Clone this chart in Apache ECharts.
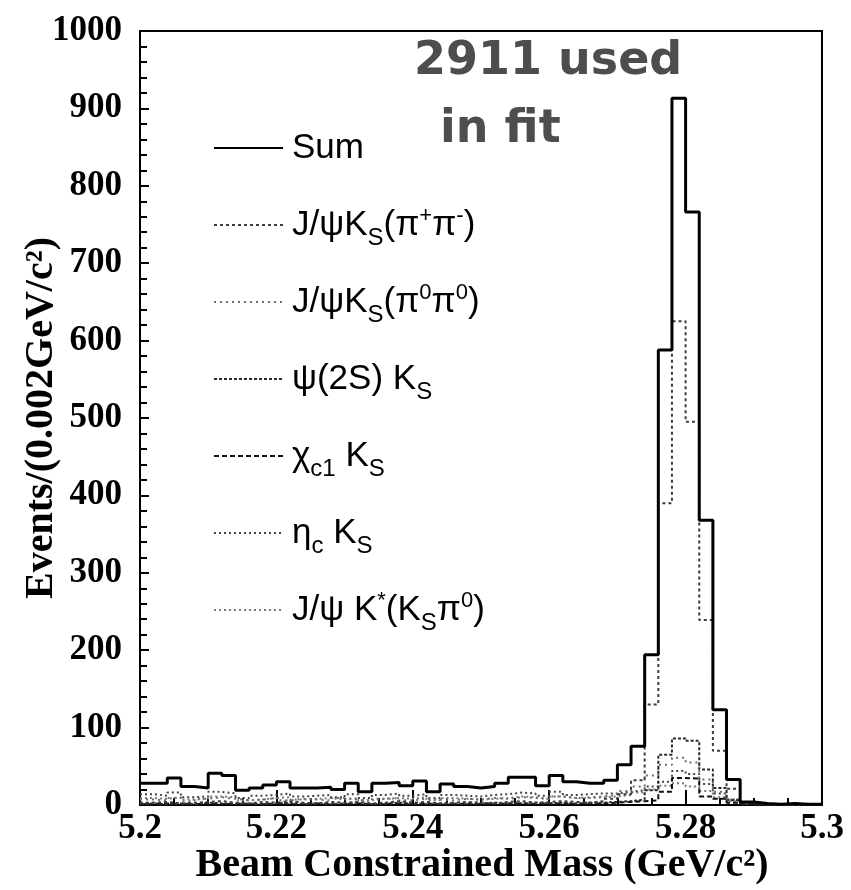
<!DOCTYPE html>
<html>
<head>
<meta charset="utf-8">
<script src="https://cdn.jsdelivr.net/npm/echarts@6/dist/echarts.min.js"></script>
<style>
  html, body { margin: 0; padding: 0; background: #fff; }
  #chart { width: 851px; height: 890px; }
</style>
</head>
<body>
<div id="chart"></div>
<script>
// Beam-constrained mass histogram, 50 bins of 0.002 GeV/c^2 from 5.200 to 5.300
const massMin = 5.2;
const massMax = 5.3;
const binWidth = 0.002;

const xTickLabels = ['5.2', '5.22', '5.24', '5.26', '5.28', '5.3'];
const yTickLabels = ['0', '100', '200', '300', '400', '500', '600', '700', '800', '900', '1000'];

// Total of all channels
const sumCounts = [
  28, 28, 35, 24, 22, 41, 38, 19, 22, 26,
  30, 22, 22, 23, 20, 28, 17, 28, 29, 25,
  31, 17, 27, 24, 22, 24, 28, 36, 36, 25,
  38, 30, 28, 28, 32, 52, 76, 194, 588, 913,
  766, 368, 123, 33, 4, 2, 1, 2, 1, 1
];

// J/psi K_S (pi+ pi-)
const jpsiKsPiPi = [
  3, 4, 2, 3, 4, 5, 3, 2, 4, 3,
  5, 3, 2, 4, 3, 4, 2, 3, 5, 3,
  4, 2, 3, 4, 3, 2, 4, 5, 3, 4,
  5, 4, 3, 5, 8, 14, 32, 130, 390, 625,
  495, 239, 70, 21, 3, 1, 0, 0, 0, 0
];

// J/psi K_S (pi0 pi0)
const jpsiKsPi0Pi0 = [
  7, 6, 9, 5, 8, 10, 8, 6, 7, 9,
  6, 8, 7, 6, 9, 7, 5, 8, 9, 6,
  8, 7, 6, 8, 7, 9, 8, 10, 9, 8,
  11, 9, 10, 11, 13, 18, 24, 38, 52, 61,
  55, 33, 17, 7, 2, 1, 0, 1, 0, 0
];

// psi(2S) K_S
const psi2sKs = [
  2, 1, 2, 1, 3, 2, 1, 2, 1, 2,
  3, 1, 2, 1, 2, 2, 1, 2, 3, 2,
  1, 2, 2, 1, 2, 3, 2, 2, 3, 2,
  3, 2, 3, 3, 4, 5, 7, 19, 65, 86,
  83, 46, 22, 6, 2, 0, 0, 0, 0, 0
];

// chi_c1 K_S
const chic1Ks = [
  1, 2, 1, 1, 2, 1, 2, 1, 1, 2,
  1, 1, 2, 1, 1, 2, 1, 1, 2, 1,
  2, 1, 1, 2, 1, 1, 2, 2, 1, 2,
  2, 1, 2, 2, 3, 4, 5, 6, 17, 35,
  34, 11, 8, 3, 1, 0, 0, 0, 0, 0
];

// eta_c K_S
const etacKs = [
  14, 12, 16, 10, 11, 17, 15, 9, 12, 13,
  15, 11, 12, 13, 10, 14, 9, 13, 15, 12,
  14, 9, 13, 12, 11, 13, 14, 16, 15, 12,
  17, 13, 14, 15, 15, 17, 19, 24, 30, 44,
  40, 27, 15, 7, 2, 1, 0, 1, 0, 0
];

// J/psi K*(K_S pi0)
const jpsiKstar = [
  9, 8, 10, 7, 8, 11, 10, 6, 7, 9,
  10, 7, 8, 9, 7, 9, 6, 8, 9, 8,
  10, 6, 9, 8, 7, 8, 9, 11, 10, 8,
  11, 9, 9, 10, 11, 13, 16, 20, 25, 28,
  24, 18, 10, 5, 2, 1, 1, 0, 1, 0
];

// Turn bin contents into step-line points at the lower bin edges,
// closing the last bin at the upper edge of the range.
function histPoints(counts) {
  const pts = counts.map((c, i) => [+(massMin + i * binWidth).toFixed(4), c]);
  pts.push([massMax, counts[counts.length - 1]]);
  return pts;
}

const legendLabels = {
  'Sum': 'Sum',
  'JpsiKsPiPi': 'J/ψK{sub|S}(π{sup|+}π{sup|-})',
  'JpsiKsPi0Pi0': 'J/ψK{sub|S}(π{sup|0}π{sup|0})',
  'Psi2sKs': 'ψ(2S) K{sub|S}',
  'Chic1Ks': 'χ{sub|c1} K{sub|S}',
  'EtacKs': 'η{sub|c} K{sub|S}',
  'JpsiKstar': 'J/ψ K{sup|*}(K{sub|S}π{sup|0})'
};

function component(name, counts, color, width, dash) {
  return {
    name: name,
    type: 'line',
    step: 'end',
    symbol: 'none',
    data: histPoints(counts),
    lineStyle: { color: color, width: width, type: dash },
    itemStyle: { color: color },
    emphasis: { disabled: true },
    z: 2
  };
}

const serifBold = { fontFamily: 'Liberation Serif', fontWeight: 'bold', color: '#000' };

const chart = echarts.init(document.getElementById('chart'), null, { renderer: 'canvas' });

chart.setOption({
  animation: false,
  backgroundColor: '#fff',
  grid: {
    left: 140, right: 29, top: 31, bottom: 85,
    show: true, borderColor: '#000', borderWidth: 2, backgroundColor: 'transparent'
  },
  xAxis: {
    type: 'value',
    min: massMin, max: massMax, interval: 0.02,
    axisLine: { show: true, onZero: false, lineStyle: { color: '#000', width: 2 } },
    axisTick: { show: true, inside: true, length: 15, lineStyle: { color: '#000', width: 2 } },
    minorTick: { show: true, splitNumber: 4, length: 7, lineStyle: { color: '#000', width: 2 } },
    splitLine: { show: false },
    axisLabel: Object.assign({
      fontSize: 35, margin: 6,
      formatter: v => xTickLabels[Math.round((v - massMin) / 0.02)]
    }, serifBold)
  },
  yAxis: {
    type: 'value',
    min: 0, max: 1000, interval: 100,
    axisLine: { show: true, lineStyle: { color: '#000', width: 2 } },
    axisTick: { show: true, inside: true, length: 9, lineStyle: { color: '#000', width: 2 } },
    minorTick: { show: true, splitNumber: 5, length: 7, lineStyle: { color: '#000', width: 2 } },
    splitLine: { show: false },
    axisLabel: Object.assign({
      fontSize: 35, margin: 18,
      formatter: v => yTickLabels[Math.round(v / 100)]
    }, serifBold)
  },
  legend: {
    orient: 'vertical',
    left: 208, top: 118,
    itemWidth: 69, itemHeight: 14, itemGap: 27,
    selectedMode: false,
    itemStyle: { opacity: 0 },
    formatter: name => legendLabels[name],
    textStyle: {
      fontFamily: 'Liberation Sans', fontSize: 35, color: '#000', lineHeight: 50,
      padding: [0, 0, 0, 4],
      rich: {
        sub: { fontFamily: 'Liberation Sans', fontSize: 24, color: '#000', verticalAlign: 'bottom', lineHeight: 24 },
        sup: { fontFamily: 'Liberation Sans', fontSize: 22, color: '#000', verticalAlign: 'top', lineHeight: 18, padding: [5, 0, 0, 0] }
      }
    },
    data: ['Sum', 'JpsiKsPiPi', 'JpsiKsPi0Pi0', 'Psi2sKs', 'Chic1Ks', 'EtacKs', 'JpsiKstar']
  },
  graphic: [
    {
      type: 'text', x: 42, y: 418, rotation: Math.PI / 2,
      style: {
        text: 'Events/(0.002GeV/c²)', fontFamily: 'Liberation Serif', fontWeight: 'bold',
        fontSize: 40, fill: '#000', align: 'center', verticalAlign: 'middle'
      }
    },
    {
      type: 'text', x: 482, y: 866,
      style: {
        text: 'Beam Constrained Mass (GeV/c²)', fontFamily: 'Liberation Serif', fontWeight: 'bold',
        fontSize: 40, fill: '#000', align: 'center', verticalAlign: 'middle'
      }
    },
    {
      type: 'text', x: 414, y: 62,
      style: {
        text: '2911 used', fontFamily: 'DejaVu Sans', fontWeight: 'bold',
        fontSize: 46, fill: '#4d4d4d', align: 'left', verticalAlign: 'middle'
      }
    },
    {
      type: 'text', x: 440, y: 130,
      style: {
        text: 'in fit', fontFamily: 'DejaVu Sans', fontWeight: 'bold',
        fontSize: 46, fill: '#4d4d4d', align: 'left', verticalAlign: 'middle'
      }
    }
  ],
  series: [
    component('JpsiKstar', jpsiKstar, '#7a7a7a', 2, [2, 3]),
    component('EtacKs', etacKs, '#444444', 2, [2, 3]),
    component('JpsiKsPi0Pi0', jpsiKsPi0Pi0, '#6e6e6e', 2, [2, 4]),
    component('Chic1Ks', chic1Ks, '#111111', 2, [5, 3]),
    component('Psi2sKs', psi2sKs, '#2a2a2a', 2, [3, 2]),
    component('JpsiKsPiPi', jpsiKsPiPi, '#3c3c3c', 2, [3, 3]),
    {
      name: 'Sum',
      type: 'line',
      step: 'end',
      symbol: 'none',
      data: histPoints(sumCounts),
      lineStyle: { color: '#000', width: 3, type: 'solid' },
      itemStyle: { color: '#000' },
      emphasis: { disabled: true },
      z: 3
    }
  ]
});
</script>
</body>
</html>
